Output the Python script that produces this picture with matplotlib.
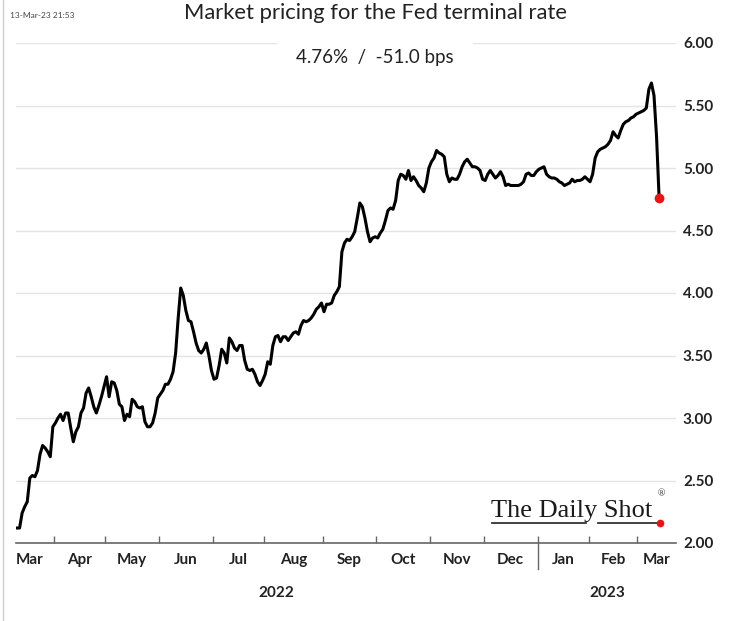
import numpy as np
import pandas as pd
import matplotlib
matplotlib.use('Agg')
import matplotlib.pyplot as plt
import matplotlib.transforms as mtransforms
from matplotlib.lines import Line2D

plt.rcParams['font.family'] = ['Lato', 'DejaVu Sans']

# business-day axis, US market holidays skipped
start_date = '2022-03-11'
end_date = '2023-03-13'
holidays = ['2022-04-15', '2022-05-30', '2022-06-20', '2022-07-04', '2022-09-05',
            '2022-11-24', '2022-12-26', '2023-01-02', '2023-01-16', '2023-02-20']

# implied terminal rate (%), one value per business day
rate = [
    2.12, 2.12, 2.24, 2.29, 2.33, 2.52, 2.54, 2.53, 2.58, 2.71,
    2.78, 2.76, 2.73, 2.69, 2.93, 2.96, 3.00, 3.03, 2.98, 3.04,
    3.04, 2.92, 2.81, 2.89, 2.93, 3.04, 3.08, 3.20, 3.24, 3.17,
    3.09, 3.04, 3.10, 3.17, 3.25, 3.33, 3.17, 3.29, 3.28, 3.22,
    3.11, 3.09, 2.98, 3.03, 3.01, 3.15, 3.13, 3.09, 3.08, 3.09,
    2.97, 2.93, 2.93, 2.96, 3.04, 3.16, 3.19, 3.22, 3.27, 3.27,
    3.31, 3.37, 3.52, 3.80, 4.04, 3.98, 3.86, 3.78, 3.77, 3.69,
    3.60, 3.54, 3.52, 3.55, 3.60, 3.50, 3.38, 3.31, 3.32, 3.42,
    3.55, 3.52, 3.44, 3.64, 3.61, 3.56, 3.54, 3.58, 3.58, 3.46,
    3.39, 3.38, 3.39, 3.35, 3.29, 3.26, 3.30, 3.35, 3.45, 3.43,
    3.58, 3.65, 3.66, 3.61, 3.65, 3.65, 3.62, 3.65, 3.68, 3.69,
    3.67, 3.74, 3.78, 3.77, 3.78, 3.80, 3.83, 3.87, 3.89, 3.92,
    3.85, 3.91, 3.91, 3.92, 3.98, 4.01, 4.05, 4.33, 4.40, 4.43,
    4.42, 4.45, 4.49, 4.60, 4.72, 4.69, 4.60, 4.49, 4.41, 4.44,
    4.45, 4.44, 4.48, 4.51, 4.58, 4.66, 4.68, 4.67, 4.74, 4.90,
    4.95, 4.94, 4.91, 4.98, 4.90, 4.93, 4.90, 4.86, 4.84, 4.81,
    4.88, 5.00, 5.05, 5.08, 5.14, 5.12, 5.11, 5.09, 4.95, 4.89,
    4.92, 4.91, 4.91, 4.95, 5.01, 5.05, 5.07, 5.04, 5.01, 5.01,
    5.00, 4.98, 4.91, 4.90, 4.95, 4.98, 4.95, 4.92, 4.94, 4.97,
    4.93, 4.86, 4.87, 4.86, 4.86, 4.86, 4.86, 4.87, 4.89, 4.95,
    4.96, 4.94, 4.94, 4.97, 4.99, 5.00, 5.01, 4.95, 4.93, 4.92,
    4.92, 4.91, 4.89, 4.88, 4.86, 4.87, 4.88, 4.91, 4.89, 4.90,
    4.90, 4.91, 4.93, 4.91, 4.89, 4.95, 5.08, 5.13, 5.15, 5.16,
    5.17, 5.19, 5.22, 5.29, 5.26, 5.24, 5.30, 5.35, 5.37, 5.38,
    5.40, 5.41, 5.43, 5.44, 5.45, 5.46, 5.48, 5.63, 5.68, 5.58,
    5.25, 4.76,
]

y_ticks = [2.0, 2.5, 3.0, 3.5, 4.0, 4.5, 5.0, 5.5, 6.0]
title = 'Market pricing for the Fed terminal rate'
subtitle = '4.76%  /  -51.0 bps'
stamp = '13-Mar-23 21:53'
brand = 'The Daily Shot'

W, H = 738, 621
dates = pd.bdate_range(start_date, end_date, freq='C', holidays=holidays)[:len(rate)]
x = np.arange(len(rate))

fig = plt.figure(figsize=(W / 100, H / 100), dpi=100)
ax = fig.add_axes([16 / W, 1 - 543 / H, 660 / W, 500 / H])

ax.plot(x, rate, color='black', lw=2.2, solid_joinstyle='round', zorder=3)
ax.plot(x[-1], rate[-1], 'o', color='#ee1111', ms=6, zorder=4)

ax.set_xlim(-0.4, 257.6)
ax.set_ylim(2.0, 6.0)

for s in ['top', 'left', 'right']:
    ax.spines[s].set_visible(False)
ax.spines['bottom'].set_color('#666666')
ax.spines['bottom'].set_linewidth(1.2)

ax.yaxis.tick_right()
ax.set_yticks(y_ticks)
ax.set_yticklabels([f'{v:.2f}' for v in y_ticks])
ax.tick_params(axis='y', length=0, pad=5, labelsize=11, labelcolor='#222222')
for lab in ax.get_yticklabels():
    lab.set_fontweight('bold')
ax.grid(axis='y', color='#e4e4e4', lw=1.0, zorder=0)
ax.set_axisbelow(True)

# month boundaries as ticks, month names centred in each month
months = pd.Series(x, index=dates).groupby([dates.year, dates.month])
bounds = [g.iloc[0] - 0.5 for _, g in months][1:]
centers = [(g.iloc[0] + g.iloc[-1]) / 2 for _, g in months]
centers[0] = centers[0] - 2
centers[-1] = (bounds[-1] + ax.get_xlim()[1]) / 2
names = [pd.Timestamp(year=k[0], month=k[1], day=1).strftime('%b') for k, _ in months]

ax.set_xticks(bounds)
ax.set_xticklabels([])
ax.tick_params(axis='x', which='major', direction='in', length=5, color='#666666', width=1)
ax.set_xticks(centers, minor=True)
ax.set_xticklabels(names, minor=True)
ax.tick_params(axis='x', which='minor', length=0, pad=7, labelsize=11, labelcolor='#222222')
for lab in ax.get_xticklabels(minor=True):
    lab.set_fontweight('bold')

# year labels and separator
trans = mtransforms.blended_transform_factory(ax.transData, ax.transAxes)
jan = [b for b, d in zip(bounds, [g.index[0] for _, g in months][1:]) if d.month == 1][0]
ax.add_line(Line2D([jan, jan], [0, -0.052], transform=trans, color='#666666', lw=1, clip_on=False))
for yr, lo, hi in [('2022', ax.get_xlim()[0], jan), ('2023', jan, ax.get_xlim()[1])]:
    ax.text((lo + hi) / 2, -0.1, yr, transform=trans, ha='center', va='center',
            fontsize=11, fontweight='bold', color='#222222')

# header texts
fig.text(375 / W, 1 - 13 / H, title, ha='center', va='center', fontsize=15.8, color='#222222')
fig.text(375 / W, 1 - 57 / H, subtitle, ha='center', va='center', fontsize=13.5, color='#222222',
         bbox=dict(facecolor='white', edgecolor='none', pad=14))
fig.text(10 / W, 1 - 16 / H, stamp, ha='left', va='center', fontsize=6, color='#444444')

# logo
fig.text(491 / W, 1 - 517 / H, brand, ha='left', va='baseline', fontsize=19,
         family='Liberation Serif', color='#1a1a1a')
fig.text(658 / W, 1 - 494 / H, '\u00ae', ha='left', va='center', fontsize=7,
         family='Liberation Serif', color='#222222')
fig.add_artist(Line2D([492 / W, 586 / W], [1 - 523 / H] * 2, color='#333333', lw=1.3))
fig.add_artist(Line2D([598 / W, 657 / W], [1 - 523 / H] * 2, color='#333333', lw=1.3))
fig.add_artist(Line2D([660 / W], [1 - 523 / H], marker='o', ms=4.5, color='#ee1111', lw=0))

# left frame edge
fig.add_artist(Line2D([3 / W, 3 / W], [0, 1], color='#cccccc', lw=1))

fig.savefig('out.png', dpi=100)
